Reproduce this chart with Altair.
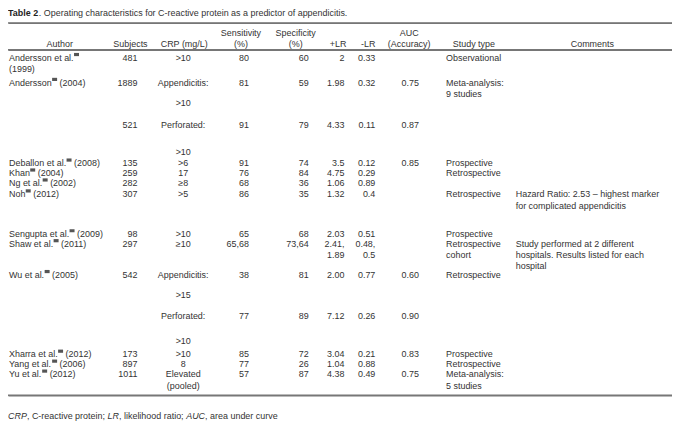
import altair as alt
import pandas as pd

# ---------------- table content (one entry per printed text line) ----------------
# "^" marks where the (illegible) superscript reference marker sits
author = ["Andersson et al.^", "(1999)", "Andersson^ (2004)", "", "", "", "",
          "Deballon et al.^ (2008)", "Khan^ (2004)", "Ng et al.^ (2002)", "Noh^ (2012)", "",
          "Sengupta et al.^ (2009)", "Shaw et al.^ (2011)", "", "", "Wu et al.^ (2005)", "", "", "",
          "Xharra et al.^ (2012)", "Yang et al.^ (2006)", "Yu et al.^ (2012)", ""]
subjects = ["481", "", "1889", "", "", "521", "", "135", "259", "282", "307", "",
            "98", "297", "", "", "542", "", "", "", "173", "897", "1011", ""]
crp = [">10", "", "Appendicitis:", "", ">10", "Perforated:", ">10", ">6", "17", "\u22658", ">5", "",
       ">10", "\u226510", "", "", "Appendicitis:", ">15", "Perforated:", ">10", ">10", "8", "Elevated", "(pooled)"]
sensitivity = ["80", "", "81", "", "", "91", "", "91", "76", "68", "86", "",
               "65", "65,68", "", "", "38", "", "77", "", "85", "77", "57", ""]
specificity = ["60", "", "59", "", "", "79", "", "74", "84", "36", "35", "",
               "68", "73,64", "", "", "81", "", "89", "", "72", "26", "87", ""]
plus_lr = ["2", "", "1.98", "", "", "4.33", "", "3.5", "4.75", "1.06", "1.32", "",
           "2.03", "2.41,", "1.89", "", "2.00", "", "7.12", "", "3.04", "1.04", "4.38", ""]
minus_lr = ["0.33", "", "0.32", "", "", "0.11", "", "0.12", "0.29", "0.89", "0.4", "",
            "0.51", "0.48,", "0.5", "", "0.77", "", "0.26", "", "0.21", "0.88", "0.49", ""]
auc = ["", "", "0.75", "", "", "0.87", "", "0.85", "", "", "", "",
       "", "", "", "", "0.60", "", "0.90", "", "0.83", "", "0.75", ""]
study_type = ["Observational", "", "Meta-analysis:", "9 studies", "", "", "", "Prospective", "Retrospective", "",
              "Retrospective", "", "Prospective", "Retrospective", "cohort", "", "Retrospective", "", "", "",
              "Prospective", "Retrospective", "Meta-analysis:", "5 studies"]
comments = ["", "", "", "", "", "", "", "", "", "",
            "Hazard Ratio: 2.53 \u2013 highest marker", "for complicated appendicitis", "",
            "Study performed at 2 different", "hospitals. Results listed for each", "hospital",
            "", "", "", "", "", "", "", ""]

header_top = ["", "", "", "Sensitivity", "Specificity", "", "", "AUC", "", ""]
header_bottom = ["Author", "Subjects", "CRP (mg/L)", "(%)", "(%)", "+LR", "-LR", "(Accuracy)", "Study type", "Comments"]

title_bold = "Table 2"
title_rest = ". Operating characteristics for C-reactive protein as a predictor of appendicitis."
foot_parts = ["CRP", ", C-reactive protein; ", "LR", ", likelihood ratio; ", "AUC", ", area under curve"]
foot_italic = [True, False, True, False, True, False]

# ---------------- layout (pixel positions in the 680x427 picture) ----------------
line_y = [57, 68, 82, 93, 103, 125, 152, 163, 173, 183, 194, 206,
          234, 244, 255, 266, 275, 295, 316, 342, 355, 365, 375, 387]
body_cols = [author, subjects, crp, sensitivity, specificity, plus_lr, minus_lr, auc, study_type, comments]
body_x = [9, 138, 184, 250, 310, 346, 377, 412, 448, 518]
body_align = ["left", "right", "center", "right", "right", "right", "right", "center", "left", "left"]
head_x = [60, 131, 185, 242, 297, 348, 377, 411, 476, 595]
head_align = ["center", "center", "center", "center", "center", "right", "right", "center", "center", "center"]
head_y = [32, 43]
title_y = 12
title_x = [8, 39]
foot_y = 417
foot_x = [8, 27, 108, 119.5, 187, 206]
rule_y = [22, 49, 396]
rule_x = [8, 675]

W, H = 667, 415
FONT = "Liberation Sans"
FS = 9
TXT = "#333333"
MARK_W = 5.0

# Arial / Liberation Sans advance widths (per 1000 em) for measuring author names
ADV = {"A": 667, "n": 556, "d": 556, "e": 556, "r": 333, "s": 500, "o": 556, " ": 278, "t": 278,
       "a": 556, "l": 222, ".": 278, "D": 722, "b": 556, "K": 667, "h": 556, "N": 722, "g": 556,
       "S": 667, "u": 556, "p": 556, "w": 722, "W": 944, "X": 667, "Y": 667, "y": 500}


def text_w(s):
    return sum(ADV.get(c, 556) for c in s) * FS / 1000.0


recs = []
boxes = []
for col, xv, al in zip(body_cols, body_x, body_align):
    for t, yv in zip(col, line_y):
        if not t:
            continue
        if "^" in t:
            pre, post = t.split("^")
            recs.append(dict(x=xv, y=yv, text=pre, anchor=al, kind="normal"))
            mx = xv + text_w(pre) + 0.3
            boxes.append(dict(x=mx, x2=mx + MARK_W, y=yv - 4.8, y2=yv - 1.6))
            if post:
                lead = len(post) - len(post.lstrip(" "))
                recs.append(dict(x=mx + MARK_W + text_w(" " * lead), y=yv, text=post.strip(),
                                 anchor=al, kind="normal"))
        else:
            recs.append(dict(x=xv, y=yv, text=t, anchor=al, kind="normal"))
for hdr, yv in zip([header_top, header_bottom], head_y):
    for t, xv, al in zip(hdr, head_x, head_align):
        if t:
            recs.append(dict(x=xv, y=yv, text=t, anchor=al, kind="normal"))
recs.append(dict(x=title_x[0], y=title_y, text=title_bold, anchor="left", kind="bold"))
recs.append(dict(x=title_x[1], y=title_y, text=title_rest, anchor="left", kind="normal"))
for t, xv, it in zip(foot_parts, foot_x, foot_italic):
    recs.append(dict(x=xv, y=foot_y, text=t, anchor="left", kind="italic" if it else "normal"))
df = pd.DataFrame(recs)
boxes_df = pd.DataFrame(boxes)
rules_df = pd.DataFrame({"rx": [rule_x[0]] * len(rule_y), "rx2": [rule_x[1]] * len(rule_y), "ry": rule_y})

xs = alt.Scale(domain=[8, 8 + W], range=[0, W])
ys = alt.Scale(domain=[8, 8 + H], range=[0, H])
# the table's horizontal rules, also drawn as y-axis gridlines
y_axis = alt.Axis(values=rule_y, grid=True, gridColor="#777777", gridWidth=1.4, gridOpacity=1,
                  labels=False, ticks=False, domain=False, title=None)

layers = [
    alt.Chart(rules_df).mark_rule(color="#777777", strokeWidth=1.4).encode(
        x=alt.X("rx:Q", scale=xs, axis=None),
        x2="rx2:Q",
        y=alt.Y("ry:Q", scale=ys, axis=y_axis),
    )
]
for al in ["left", "center", "right"]:
    for kind in ["normal", "bold", "italic"]:
        sub = df[(df["anchor"] == al) & (df["kind"] == kind)]
        if len(sub) == 0:
            continue
        props = dict(align=al, baseline="middle", font=FONT, fontSize=FS, color=TXT)
        if kind == "bold":
            props["fontWeight"] = "bold"
            props["color"] = "#222222"
        if kind == "italic":
            props["fontStyle"] = "italic"
        layers.append(
            alt.Chart(sub).mark_text(**props).encode(
                x=alt.X("x:Q", scale=xs, axis=None),
                y=alt.Y("y:Q", scale=ys, axis=y_axis),
                text="text:N",
            )
        )

layers.append(
    alt.Chart(boxes_df).mark_rect(color="#555555").encode(
        x=alt.X("x:Q", scale=xs, axis=None), x2="x2:Q",
        y=alt.Y("y:Q", scale=ys, axis=y_axis), y2="y2:Q",
    )
)

chart = alt.layer(*layers).properties(
    width=W, height=H, padding=0,
    autosize=alt.AutoSizeParams(type="none")
).configure(background="white").configure_view(strokeOpacity=0)

chart.save("out.html", embed_options={"renderer": "svg", "actions": False})
